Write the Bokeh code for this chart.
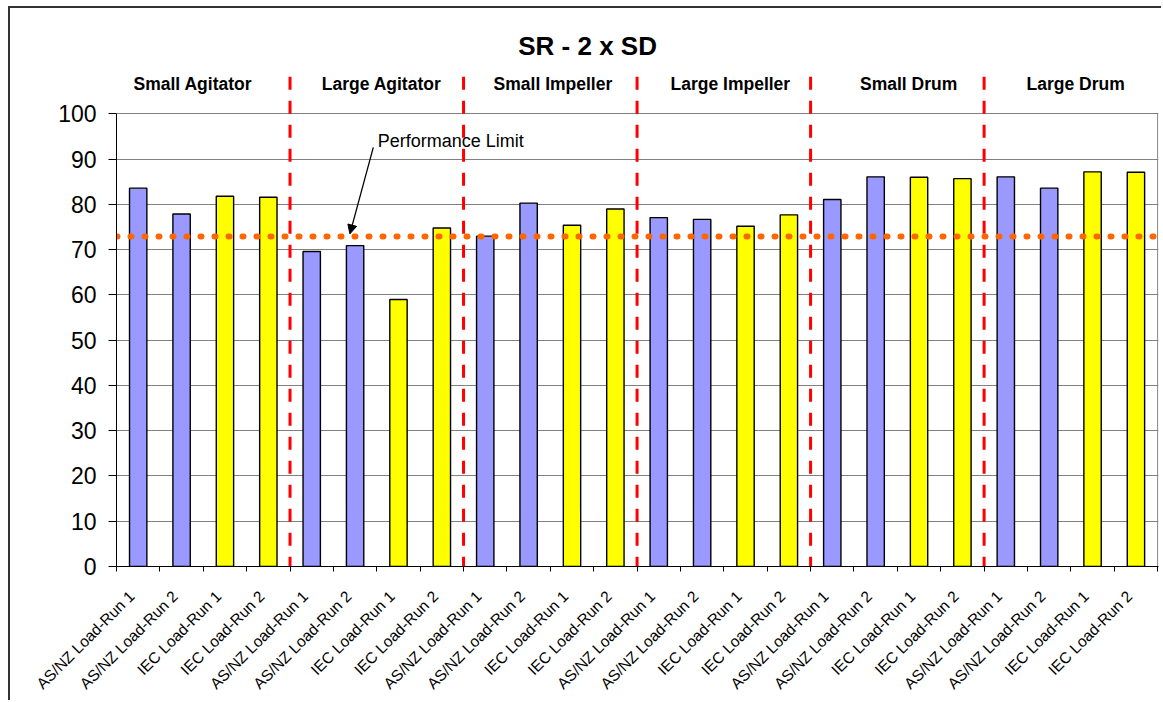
import math
from bokeh.plotting import figure
from bokeh.models import Range1d, FixedTicker, LinearAxis, Label, Arrow, NormalHead, Grid
from bokeh.embed import file_html
from bokeh.resources import INLINE

# ---------------- data ----------------
TITLE = "SR - 2 x SD"
GROUPS = ["Small Agitator", "Large Agitator", "Small Impeller",
          "Large Impeller", "Small Drum", "Large Drum"]
RUN_LABELS = ["AS/NZ Load-Run 1", "AS/NZ Load-Run 2", "IEC Load-Run 1", "IEC Load-Run 2"]
VALUES = [83.6, 77.9, 81.8, 81.6,
          69.6, 70.9, 59.0, 74.8,
          73.0, 80.3, 75.4, 79.0,
          77.1, 76.7, 75.2, 77.7,
          81.1, 86.1, 86.0, 85.7,
          86.1, 83.6, 87.2, 87.1]
LIMIT = 72.9
LIMIT_LABEL = "Performance Limit"
Y_TICKS = list(range(0, 101, 10))

# ---------------- derived ----------------
SHIFT = 0.15   # rotated labels sit slightly left of the bar centres
labels = RUN_LABELS * len(GROUPS)
n = len(labels)
label_x = list(range(n))
bar_x = [i + SHIFT for i in label_x]
colors = ["#9999FF" if l.startswith("AS/NZ") else "#FFFF00" for l in labels]
per_group = len(RUN_LABELS)
left_edge = -0.5 + SHIFT
right_edge = n - 0.5 + SHIFT
bounds_x = [g * per_group + left_edge for g in range(1, len(GROUPS))]

FONT = "Liberation Sans"

p = figure(width=1153, height=694,
           x_range=Range1d(left_edge, right_edge + 0.02), y_range=Range1d(0, 123.3),
           output_backend="svg", toolbar_location=None,
           x_axis_type=None, y_axis_type=None,
           min_border_left=106, min_border_right=5,
           min_border_top=0, min_border_bottom=136,
           outline_line_color=None, background_fill_color="white",
           border_fill_color="white")
p.styles = {"margin-left": "8px", "margin-top": "6px",
            "border-left": "2px solid #333333", "border-top": "2px solid #333333"}

# grid
p.add_layout(Grid(dimension=1, ticker=FixedTicker(ticks=Y_TICKS[1:]),
                  grid_line_color="#808080", grid_line_width=1))
# right border of the plot area
p.segment(x0=[right_edge], y0=[0], x1=[right_edge], y1=[Y_TICKS[-1]],
          line_color="#808080", line_width=1)

# bars
p.vbar(x=bar_x, top=VALUES, width=0.4, fill_color=colors,
       line_color="black", line_width=1.4)

# group separators
p.segment(x0=bounds_x, y0=[108.2] * len(bounds_x), x1=bounds_x, y1=[0] * len(bounds_x),
          line_color="#FF0000", line_width=3, line_dash="13 11")

# performance limit
p.line(x=[left_edge, right_edge], y=[LIMIT, LIMIT], line_color="#FF6600",
       line_width=6, line_dash="1 13", line_cap="round")

# axes
xaxis = LinearAxis(
    ticker=FixedTicker(ticks=label_x, minor_ticks=[left_edge + i for i in range(n + 1)]),
    major_label_overrides={i: l for i, l in zip(label_x, labels)},
    major_label_orientation=math.pi / 4,
    major_label_text_font=FONT, major_label_text_font_size="15.5px",
    major_label_text_color="black", major_label_standoff=22,
    major_tick_in=0, major_tick_out=0, minor_tick_in=0, minor_tick_out=5,
    minor_tick_line_color="black", axis_line_color="black")
p.add_layout(xaxis, "below")

yaxis = LinearAxis(
    ticker=FixedTicker(ticks=Y_TICKS), bounds=(0, 100),
    major_label_text_font=FONT, major_label_text_font_size="23px",
    major_label_text_color="black", major_label_standoff=12,
    major_tick_in=0, major_tick_out=8, minor_tick_out=0, minor_tick_in=0,
    major_tick_line_color="black", axis_line_color="black")
p.add_layout(yaxis, "left")

# title
p.add_layout(Label(x=10.36 + SHIFT, y=115.1, text=TITLE, text_align="center",
                   text_baseline="middle", text_font=FONT, text_font_size="26px",
                   text_font_style="bold", text_color="black"))

# group headers
HEADER_X = [1.26, 5.61, 9.56, 13.65, 17.76, 21.61]
for gx, g in zip(HEADER_X, GROUPS):
    p.add_layout(Label(x=gx + SHIFT, y=106.7, text=g, text_align="center",
                       text_baseline="middle", text_font=FONT, text_font_size="17.5px",
                       text_font_style="bold", text_color="black"))

# performance limit annotation
p.add_layout(Label(x=5.52 + SHIFT, y=94.1, text=LIMIT_LABEL, text_align="left",
                   text_baseline="middle", text_font=FONT, text_font_size="18px",
                   text_color="black"))
p.add_layout(Arrow(end=NormalHead(size=9, fill_color="black", line_color="black"),
                   x_start=5.42 + SHIFT, y_start=92.6, x_end=4.88 + SHIFT, y_end=LIMIT + 0.6,
                   line_color="black", line_width=1.3))

open("out.html", "w").write(file_html(p, INLINE))
